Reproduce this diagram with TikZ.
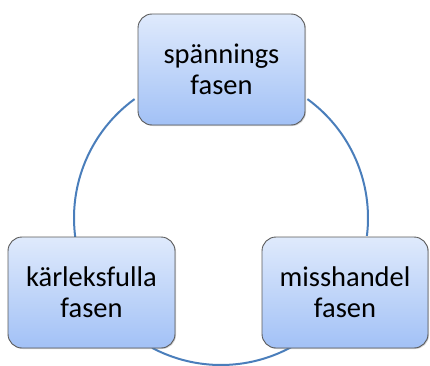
\documentclass[tikz,border=0pt]{standalone}
\usepackage{fontspec}
\setmainfont{Carlito}
\usetikzlibrary{calc,backgrounds,shadows}
\definecolor{arcblue}{RGB}{74,126,187}
\definecolor{boxtop}{RGB}{223,234,252}
\definecolor{boxbot}{RGB}{162,193,246}
\definecolor{boxline}{RGB}{90,90,90}
\tikzset{
  phase/.style={draw=boxline, line width=0.9pt, rounded corners=14pt,
    top color=boxtop, bottom color=boxbot,
    drop shadow={shadow xshift=1pt, shadow yshift=-1pt, opacity=0.35},
    minimum width=167pt, minimum height=111pt, inner sep=0pt,
    align=center, font=\fontsize{28.5}{31}\selectfont},
  cyc/.style={draw=arcblue, line width=2pt}
}
\begin{document}
\begin{tikzpicture}[x=1pt,y=1pt]
\useasboundingbox (0,0) rectangle (430,365);
\coordinate (ctr) at (221,147);
\node[phase] (top) at (221.5,295.5) {spännings\\fasen};
\node[phase] (left) at (91.5,72.5) {kärleksfulla\\fasen};
\node[phase, minimum width=166pt] (right) at (345,72.5) {misshandel\\fasen};
\coordinate (a1) at ($(ctr)+(126:147)$);
\coordinate (a2) at ($(ctr)+(242:147)$);
\coordinate (a3) at ($(ctr)+(353:147)$);
\begin{scope}[on background layer]
\draw[cyc] (a1) arc[start angle=126, end angle=188, radius=147];
\draw[cyc] (a2) arc[start angle=242, end angle=298.5, radius=147];
\draw[cyc] (a3) arc[start angle=353, end angle=414, radius=147];
\end{scope}
\end{tikzpicture}
\end{document}
